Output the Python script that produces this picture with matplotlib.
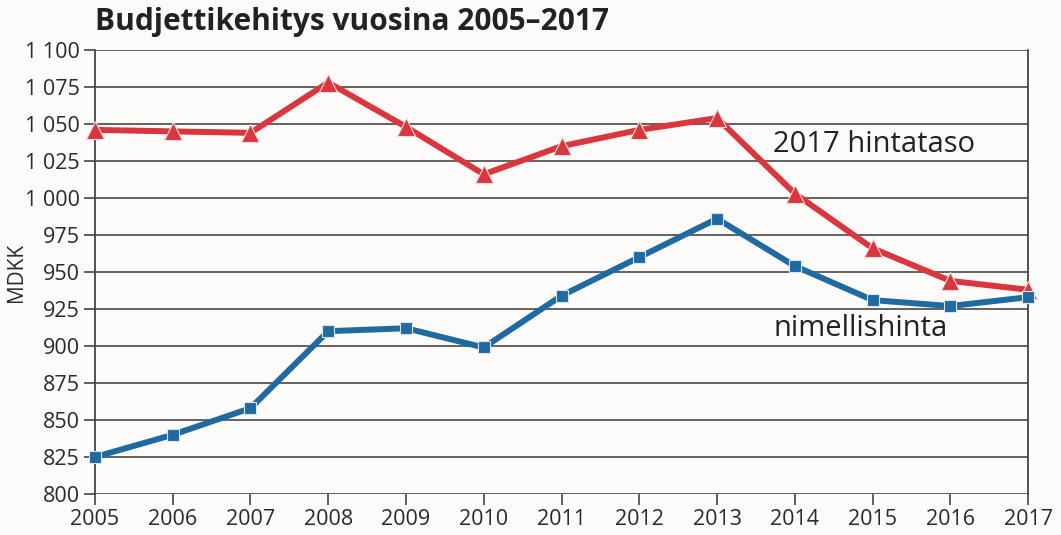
from matplotlib import pyplot as plt

years = list(range(2005, 2018))
hintataso_2017 = [1046, 1045, 1044, 1078, 1048, 1016, 1035, 1046, 1054, 1003, 966, 944, 938]
nimellishinta = [825, 840, 858, 910, 912, 899, 934, 960, 986, 954, 931, 927, 933]
yticks = list(range(800, 1101, 25))


def fmt(v):
    # thousands separated by a space, finnish style
    return "{:,}".format(v).replace(",", " ")


plt.rcParams['font.family'] = ['Open Sans', 'DejaVu Sans']
bg = '#fcfbf9'
fig = plt.figure(figsize=(10.61, 5.35), dpi=100, facecolor=bg)
ax = fig.add_axes([0.0895, 0.0766, 0.8795, 0.83], facecolor=bg)

ax.plot(years, hintataso_2017, color='#d9363e', lw=4.3, marker='^', ms=13,
        mec='#f3dcdc', mew=0.8, zorder=3, clip_on=False)
ax.plot(years, nimellishinta, color='#1f6aa0', lw=4.3, marker='s', ms=9,
        mec='#d7e4ee', mew=0.8, zorder=4, clip_on=False)

ax.set_xlim(2005, 2017)
ax.set_ylim(800, 1100)
ax.set_yticks(yticks)
ax.set_yticklabels([fmt(v) for v in yticks])
ax.set_xticks(years)
ax.grid(axis='y', color='#555555', lw=1.3)
ax.tick_params(axis='both', length=8, width=1.2, color='#444444', labelsize=15.5, labelcolor='#2a2a2a')
ax.tick_params(axis='x', pad=3)
ax.tick_params(axis='y', pad=3)
for s in ['top', 'bottom']:
    ax.spines[s].set_visible(False)
for s in ['left', 'right']:
    ax.spines[s].set_color('#444444')
    ax.spines[s].set_linewidth(1.3)
ax.spines['right'].set_bounds(800, 1100)

ax.set_ylabel("MDKK", fontsize=15, color='#2a2a2a')
ax.yaxis.set_label_coords(-0.073, 0.5)
ax.text(2013.72, 1036, "2017 hintataso", fontsize=21, color='#222222', ha='left', va='center')
ax.text(2013.72, 912, "nimellishinta", fontsize=21, color='#222222', ha='left', va='center')

fig.text(0.0895, 0.958, "Budjettikehitys vuosina 2005–2017", fontsize=21.5, fontweight='bold',
         color='#222222', ha='left', va='center')

fig.savefig("out.png", dpi=100, facecolor=bg)
